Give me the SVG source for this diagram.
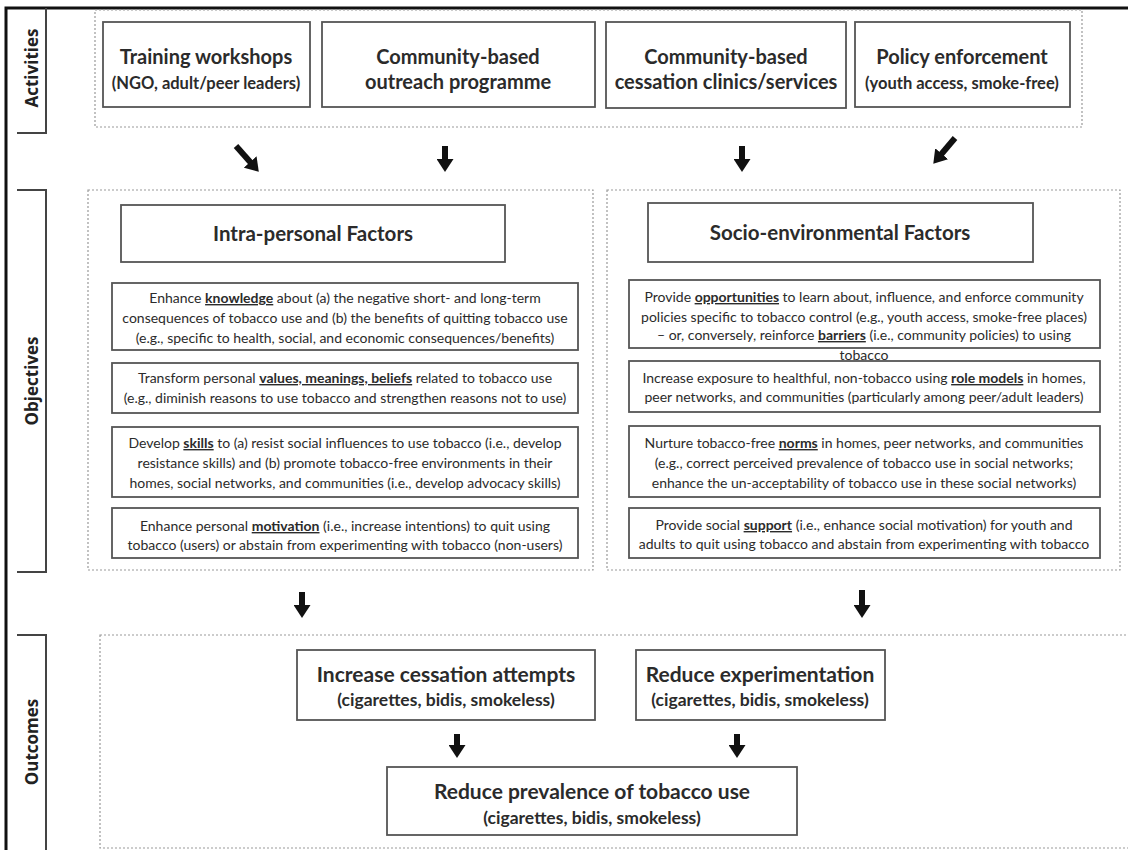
<svg xmlns="http://www.w3.org/2000/svg" width="1128" height="850" viewBox="0 0 1128 850">
<style>
.frame{fill:none;stroke:#111;stroke-width:3}
.bracket{fill:none;stroke:#444;stroke-width:2}
.grp{fill:none;stroke:#999;stroke-width:1.2;stroke-dasharray:2 2}
.box{fill:#fff;stroke:#555;stroke-width:1.8}
text{font-family:Lato,"Open Sans",sans-serif;fill:#2b2b2b;text-anchor:middle}
text.side{font-family:"Open Sans",Lato,sans-serif;font-weight:700;font-size:17px;fill:#222;dominant-baseline:central}
.t1{font-weight:700;font-size:20px}
.t2{font-weight:700;font-size:16.5px}
.t4{font-weight:700;font-size:21px}
.t3{font-weight:700;font-size:17.5px}
.h{font-weight:700;font-size:20.5px}
.o{font-size:14px}
.u{font-weight:700;text-decoration:underline}
.arrow{stroke:#111;stroke-width:6;fill:none;marker-end:url(#ah)}
</style>
<defs>
<marker id="ah" markerUnits="userSpaceOnUse" markerWidth="15" markerHeight="17" refX="2" refY="8.5" orient="auto">
<path d="M0,0 L13,8.5 L0,17 z" fill="#111"/>
</marker>
</defs>

<path class="frame" d="M6,850 V8 H1128"/>
<path class="bracket" d="M46,8 V133 H17"/>
<path class="bracket" d="M17,190 H46 V572 H17"/>
<path class="bracket" d="M17,635 H46 V850"/>
<text class="side" font-weight="bold" transform="translate(31,68) rotate(-90)">Activities</text>
<text class="side" font-weight="bold" transform="translate(31,381) rotate(-90)">Objectives</text>
<text class="side" font-weight="bold" transform="translate(31,742) rotate(-90)">Outcomes</text>

<rect class="grp" x="95" y="10" width="987" height="117"/>
<rect class="grp" x="88" y="190" width="505" height="380"/>
<rect class="grp" x="607" y="190" width="513" height="380"/>
<rect class="grp" x="100" y="635" width="1040" height="213"/>

<g id="act-training">
<rect class="box" x="103" y="22" width="207" height="85"/>
<text class="t1" x="206" y="64">Training workshops</text>
<text class="t2" x="206" y="89">(NGO, adult/peer leaders)</text>
</g>
<g id="act-outreach">
<rect class="box" x="322" y="22" width="273" height="85"/>
<text class="t1" x="458" y="64">Community-based</text>
<text class="t1" x="458" y="89">outreach programme</text>
</g>
<g id="act-cessation">
<rect class="box" x="606" y="22" width="240" height="86"/>
<text class="t1" x="726" y="64">Community-based</text>
<text class="t1" x="726" y="89">cessation clinics/services</text>
</g>
<g id="act-policy">
<rect class="box" x="855" y="22" width="215" height="85"/>
<text class="t1" x="962" y="64">Policy enforcement</text>
<text class="t2" x="962" y="89">(youth access, smoke-free)</text>
</g>

<g id="obj-intra-header">
<rect class="box" x="121" y="205" width="384" height="57"/>
<text class="h" x="313" y="241">Intra-personal Factors</text>
</g>
<g id="obj-knowledge">
<rect class="box" x="112" y="283" width="466" height="67"/>
<text class="o" x="345" y="303">Enhance <tspan class="u">knowledge</tspan> about (a) the negative short- and long-term</text>
<text class="o" x="345" y="323">consequences of tobacco use and (b) the benefits of quitting tobacco use</text>
<text class="o" x="345" y="343">(e.g., specific to health, social, and economic consequences/benefits)</text>
</g>
<g id="obj-values">
<rect class="box" x="112" y="363" width="466" height="50"/>
<text class="o" x="345" y="383">Transform personal <tspan class="u">values, meanings, beliefs</tspan> related to tobacco use</text>
<text class="o" x="345" y="403">(e.g., diminish reasons to use tobacco and strengthen reasons not to use)</text>
</g>
<g id="obj-skills">
<rect class="box" x="112" y="427" width="466" height="70"/>
<text class="o" x="345" y="448">Develop <tspan class="u">skills</tspan> to (a) resist social influences to use tobacco (i.e., develop</text>
<text class="o" x="345" y="468">resistance skills) and (b) promote tobacco-free environments in their</text>
<text class="o" x="345" y="488">homes, social networks, and communities (i.e., develop advocacy skills)</text>
</g>
<g id="obj-motivation">
<rect class="box" x="112" y="508" width="466" height="50"/>
<text class="o" x="345" y="531">Enhance personal <tspan class="u">motivation</tspan> (i.e., increase intentions) to quit using</text>
<text class="o" x="345" y="550">tobacco (users) or abstain from experimenting with tobacco (non-users)</text>
</g>

<g id="obj-socio-header">
<rect class="box" x="648" y="203" width="385" height="59"/>
<text class="h" x="840" y="240">Socio-environmental Factors</text>
</g>
<g id="obj-opportunities">
<rect class="box" x="629" y="280" width="471" height="68"/>
<text class="o" x="864" y="302">Provide <tspan class="u">opportunities</tspan> to learn about, influence, and enforce community</text>
<text class="o" x="864" y="322">policies specific to tobacco control (e.g., youth access, smoke-free places)</text>
<text class="o" x="864" y="340">– or, conversely, reinforce <tspan class="u">barriers</tspan> (i.e., community policies) to using</text>
<text class="o" x="864" y="360">tobacco</text>
</g>
<g id="obj-rolemodels">
<rect class="box" x="629" y="361" width="471" height="51" style="fill:none"/>
<text class="o" x="864" y="383">Increase exposure to healthful, non-tobacco using <tspan class="u">role models</tspan> in homes,</text>
<text class="o" x="864" y="402">peer networks, and communities (particularly among peer/adult leaders)</text>
</g>
<g id="obj-norms">
<rect class="box" x="629" y="426" width="471" height="71"/>
<text class="o" x="864" y="448">Nurture tobacco-free <tspan class="u">norms</tspan> in homes, peer networks, and communities</text>
<text class="o" x="864" y="468">(e.g., correct perceived prevalence of tobacco use in social networks;</text>
<text class="o" x="864" y="488">enhance the un-acceptability of tobacco use in these social networks)</text>
</g>
<g id="obj-support">
<rect class="box" x="629" y="508" width="471" height="50"/>
<text class="o" x="864" y="530">Provide social <tspan class="u">support</tspan> (i.e., enhance social motivation) for youth and</text>
<text class="o" x="864" y="549">adults to quit using tobacco and abstain from experimenting with tobacco</text>
</g>

<g id="out-cessation">
<rect class="box" x="297" y="650" width="298" height="70"/>
<text class="t4" x="446" y="682">Increase cessation attempts</text>
<text class="t3" x="446" y="706">(cigarettes, bidis, smokeless)</text>
</g>
<g id="out-experimentation">
<rect class="box" x="636" y="650" width="249" height="70"/>
<text class="t4" x="760" y="682">Reduce experimentation</text>
<text class="t3" x="760" y="706">(cigarettes, bidis, smokeless)</text>
</g>
<g id="out-prevalence">
<rect class="box" x="387" y="767" width="410" height="68"/>
<text class="t4" x="592" y="799">Reduce prevalence of tobacco use</text>
<text class="t3" x="592" y="824">(cigarettes, bidis, smokeless)</text>
</g>

<g id="connectors">
<line class="arrow" x1="236" y1="146" x2="251.5" y2="163.5"/>
<line class="arrow" x1="445" y1="146" x2="445" y2="161"/>
<line class="arrow" x1="742" y1="146" x2="742" y2="161"/>
<line class="arrow" x1="955" y1="138" x2="940.4" y2="155.3"/>
<line class="arrow" x1="302" y1="592" x2="302" y2="607"/>
<line class="arrow" x1="862" y1="590" x2="862" y2="607"/>
<line class="arrow" x1="457" y1="734" x2="457" y2="747"/>
<line class="arrow" x1="737" y1="734" x2="737" y2="747"/>
</g>
</svg>
